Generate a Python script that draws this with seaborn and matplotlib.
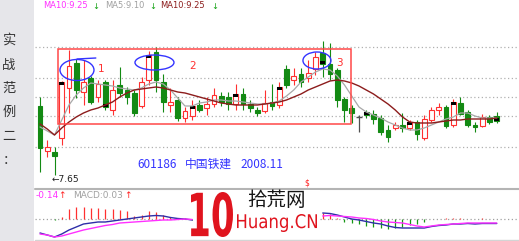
import numpy as np
import pandas as pd
import matplotlib
matplotlib.use("Agg")
import matplotlib.pyplot as plt
import seaborn as sns
from matplotlib.patches import Rectangle, Ellipse, PathPatch
from matplotlib.lines import Line2D
from matplotlib.textpath import TextPath
from matplotlib.font_manager import FontProperties
from matplotlib.transforms import Affine2D

# ---------------- data ----------------
opens = [8.34, 7.89, 7.88, 8.02, 8.52, 8.77, 8.48, 8.62, 8.43, 8.58,
         8.30, 8.55, 8.50, 8.47, 8.34, 8.60, 8.88, 8.58, 8.35, 8.40,
         8.22, 8.24, 8.35, 8.32, 8.36, 8.44, 8.43, 8.36, 8.46, 8.36,
         8.30, 8.29, 8.38, 8.35, 8.71, 8.60, 8.66, 8.62, 8.71, 8.87,
         8.76, 8.70, 8.41, 8.32, 8.23, 8.28, 8.26, 8.22, 8.10, 8.12,
         8.15, 8.12, 8.18, 8.02, 8.20, 8.30, 8.33, 8.15, 8.37, 8.28,
         8.15, 8.14, 8.23, 8.24]
closes = [7.92, 7.93, 7.84, 8.58, 8.74, 8.50, 8.58, 8.38, 8.56, 8.33,
          8.50, 8.47, 8.43, 8.27, 8.58, 8.85, 8.60, 8.38, 8.38, 8.22,
          8.29, 8.34, 8.30, 8.36, 8.45, 8.38, 8.36, 8.46, 8.36, 8.32,
          8.27, 8.37, 8.34, 8.53, 8.55, 8.64, 8.58, 8.67, 8.83, 8.76,
          8.66, 8.40, 8.30, 8.27, 8.23, 8.25, 8.21, 8.08, 8.03, 8.15,
          8.12, 8.18, 8.06, 8.21, 8.30, 8.33, 8.14, 8.38, 8.26, 8.15,
          8.13, 8.23, 8.18, 8.19]
highs = [8.43, 8.00, 7.93, 8.59, 8.90, 8.81, 8.80, 8.64, 8.60, 8.60,
         8.60, 8.73, 8.53, 8.50, 8.63, 8.89, 8.93, 8.66, 8.52, 8.43,
         8.33, 8.40, 8.40, 8.43, 8.52, 8.48, 8.48, 8.56, 8.52, 8.40,
         8.33, 8.50, 8.56, 8.58, 8.75, 8.72, 8.72, 8.80, 8.88, 8.99,
         8.97, 8.72, 8.43, 8.35, 8.25, 8.30, 8.30, 8.25, 8.15, 8.18,
         8.27, 8.20, 8.20, 8.25, 8.33, 8.37, 8.35, 8.41, 8.43, 8.30,
         8.18, 8.26, 8.25, 8.28]
lows = [7.68, 7.83, 7.65, 7.95, 8.27, 8.42, 8.35, 8.36, 8.38, 8.30,
        8.25, 8.43, 8.36, 8.24, 8.32, 8.55, 8.48, 8.28, 8.28, 8.19,
        8.18, 8.20, 8.28, 8.25, 8.33, 8.34, 8.30, 8.30, 8.30, 8.28,
        8.24, 8.27, 8.30, 8.32, 8.52, 8.55, 8.53, 8.58, 8.65, 8.63,
        8.60, 8.33, 8.18, 8.17, 8.08, 8.22, 8.16, 8.05, 7.98, 8.10,
        8.08, 8.10, 8.00, 8.00, 8.18, 8.25, 8.12, 8.13, 8.25, 8.13,
        8.08, 8.13, 8.16, 8.17]
ma5 = [8.13, 8.09, 8.05, 8.20, 8.35, 8.45, 8.52, 8.57, 8.56, 8.55,
       8.54, 8.52, 8.51, 8.50, 8.52, 8.56, 8.58, 8.56, 8.50, 8.42,
       8.34, 8.34, 8.37, 8.38, 8.40, 8.40, 8.39, 8.39, 8.38, 8.37,
       8.36, 8.36, 8.37, 8.39, 8.44, 8.50, 8.58, 8.63, 8.68, 8.71,
       8.70, 8.64, 8.55, 8.44, 8.33, 8.28, 8.25, 8.22, 8.18, 8.15,
       8.12, 8.10, 8.10, 8.12, 8.15, 8.18, 8.21, 8.23, 8.27, 8.27,
       8.24, 8.22, 8.22, 8.22]
ma10 = [8.16, 8.11, 8.05, 8.12, 8.18, 8.23, 8.27, 8.30, 8.32, 8.35,
        8.38, 8.43, 8.47, 8.50, 8.51, 8.52, 8.53, 8.52, 8.50, 8.48,
        8.47, 8.45, 8.43, 8.41, 8.39, 8.37, 8.36, 8.35, 8.35, 8.35,
        8.35, 8.36, 8.37, 8.38, 8.40, 8.43, 8.46, 8.50, 8.53, 8.56,
        8.59, 8.60, 8.59, 8.57, 8.54, 8.50, 8.46, 8.41, 8.36, 8.30,
        8.23, 8.18, 8.17, 8.17, 8.17, 8.18, 8.19, 8.20, 8.20, 8.21,
        8.21, 8.21, 8.21, 8.22]
mark_idx = [3, 9, 15, 21, 27, 33, 39, 45, 51, 57, 63]   # candles with black close tick
hidden = [np.nan] * 17   # MACD values covered by the logo
macd_hist = ([0, 0, -0.005, 0.02, 0.10, 0.12, 0.12, 0.11, 0.11, 0.10,
              0.10, 0.09, 0.08, 0.03, 0.04, 0.08, 0.07, 0.04, 0.02, 0.01,
              0.01, -0.005] + hidden +
             [0.06, 0.05, 0.01, -0.03, -0.04, -0.05, -0.07, -0.08, -0.09, -0.10,
              -0.09, -0.08, -0.06, -0.05, -0.03, 0, 0, 0.01, 0.01, 0.01,
              0.005, 0, 0.01, 0, 0])
macd_dif = ([-0.14, -0.16, -0.18, -0.15, -0.11, -0.08, -0.05, -0.04, -0.03, -0.03,
             -0.02, -0.01, 0.00, 0.01, 0.02, 0.03, 0.035, 0.03, 0.015, 0.005,
             0.0, -0.01] + hidden +
            [0.06, 0.055, 0.04, 0.02, 0.0, -0.01, -0.025, -0.04, -0.05, -0.07,
             -0.085, -0.09, -0.09, -0.09, -0.09, -0.075, -0.065, -0.06, -0.05, -0.05,
             -0.045, -0.05, -0.045, -0.045, -0.045])
macd_dea = ([-0.15, -0.16, -0.18, -0.17, -0.15, -0.13, -0.11, -0.095, -0.08, -0.065,
             -0.055, -0.04, -0.035, -0.03, -0.025, -0.02, -0.015, -0.01, -0.01, -0.005,
             0.0, -0.005] + hidden +
            [0.03, 0.035, 0.03, 0.025, 0.02, 0.01, 0.005, -0.005, -0.02, -0.03,
             -0.035, -0.04, -0.055, -0.07, -0.08, -0.07, -0.06, -0.055, -0.05, -0.045,
             -0.04, -0.04, -0.04, -0.04, -0.04])
grid_levels = [8.93, 8.62, 8.43, 8.24, 7.93]
low_label = "7.65"
legend_items = [("MA10:9.25", "#ff30ff"), ("MA5:9.10", "#a0a0a0"), ("MA10:9.25", "#8c1c1c")]
macd_labels = [("-0.14", "#ff30ff"), ("MACD:0.03", "#a0a0a0")]
side_text = "实战范例二："
stock_code, stock_name, stock_date = "601186", "中国铁建", "2008.11"

# ---------------- style ----------------
RED = "#ff3030"
GREEN = "#138a13"
DOJI = "#505050"
GRAYMA = "#a8a8a8"
BROWN = "#8c1c1c"
BLUE = "#3434ff"

sns.set_theme(style="white")
plt.rcParams['font.family'] = ['Noto Sans CJK SC', 'DejaVu Sans']

W, H = 519, 241
fig = plt.figure(figsize=(W / 100, H / 100), dpi=100)
fig.patch.set_facecolor("white")


def fx(px):
    return px / W


def fy(py):
    return 1 - py / H


# left grey panel
fig.add_artist(Rectangle((0, 0), fx(34), 1, transform=fig.transFigure,
                         facecolor="#e6e6ea", edgecolor="none", zorder=0))
for ch, py in zip(side_text, [40, 65, 88, 112, 136, 161]):
    fig.text(fx(9), fy(py), ch, ha="center", va="center", fontsize=9.5,
             color="#333333", family=['Noto Sans CJK SC', 'DejaVu Sans'])

# ---------------- main price panel ----------------
ax = fig.add_axes([fx(35), fy(188), fx(519) - fx(35), 188 / H])
ax.set_facecolor("none")
ax.axis("off")
ax.set_xlim(-0.69, 66.07)
ax.set_ylim(7.52, 9.40)

o = np.array(opens); c = np.array(closes); h = np.array(highs); l = np.array(lows)
x = np.arange(len(o))
up = c > o
dn = c < o
fl = c == o

for g in grid_levels:
    ax.axhline(g, color="#b0b0b0", lw=0.9, ls=(0, (1, 2)), zorder=1)

ax.vlines(x[up], l[up], h[up], color=RED, lw=0.8, zorder=2)
ax.vlines(x[dn], l[dn], h[dn], color=GREEN, lw=0.8, zorder=2)
ax.vlines(x[fl], l[fl], h[fl], color=DOJI, lw=0.9, zorder=2)
bw = 0.66
ax.bar(x[up], (c - o)[up], bottom=o[up], width=bw, facecolor="white",
       edgecolor=RED, linewidth=0.8, zorder=3)
ax.bar(x[dn], (o - c)[dn], bottom=c[dn], width=bw, facecolor=GREEN,
       edgecolor=GREEN, linewidth=0.8, zorder=3)
ax.hlines(c[fl], x[fl] - 0.4, x[fl] + 0.4, color=DOJI, lw=1.0, zorder=3)

mi = np.array(mark_idx)
mk = 0.03
mbottom = np.where(c[mi] > o[mi], c[mi] - mk, c[mi])
ax.bar(x[mi], mk, bottom=mbottom, width=bw, color="black", linewidth=0, zorder=3.5)

df = pd.DataFrame({"x": x, "ma5": ma5, "ma10": ma10})
sns.lineplot(data=df, x="x", y="ma5", ax=ax, color=GRAYMA, lw=0.9, zorder=4, legend=False)
sns.lineplot(data=df, x="x", y="ma10", ax=ax, color=BROWN, lw=1.0, zorder=4, legend=False)
ax.axis("off")

# annotation frame, ellipses and numbers
ax.add_patch(Rectangle((2.48, 8.16), 42.9 - 2.48, 8.91 - 8.16, fill=False,
                       edgecolor="#ff4848", lw=1.1, zorder=5))
for (cx, cy, ew, eh) in [(5.1, 8.70, 4.69, 0.21), (15.79, 8.775, 5.38, 0.15),
                         (38.2, 8.795, 3.86, 0.17)]:
    ax.add_patch(Ellipse((cx, cy), ew, eh, fill=False, edgecolor=BLUE, lw=1.0, zorder=6))
ax.plot([5.1, 7.7], [8.81, 8.82], color=BLUE, lw=1.0, zorder=6)
for txt, tx, ty in [("1", 8.41, 8.71), ("2", 21.1, 8.74), ("3", 41.24, 8.77)]:
    ax.text(tx, ty, txt, color="#ff3030", fontsize=7.5, ha="center", va="center",
            family=["DejaVu Sans"], zorder=7)

# top legend
pos = [43, 105, 160]
arr = [92, 149, 211]
for (t, col), px, ax_ in zip(legend_items, pos, arr):
    fig.text(fx(px), fy(6), t, color=col, fontsize=6, ha="left", va="center",
             family=["DejaVu Sans"])
    fig.text(fx(ax_), fy(6.5), "↓", color="#10a010", fontsize=6, ha="left",
             va="center", family=["DejaVu Sans"])

# low label
fig.text(fx(52), fy(179), "←" + low_label, color="#202020", fontsize=6.5,
         ha="left", va="center", family=["DejaVu Sans"])

# stock caption
for t, px in [(stock_code, 137), (stock_name, 185), (stock_date, 240)]:
    fig.text(fx(px), fy(164), t, color=BLUE, fontsize=8.5, ha="left", va="center",
             family=['Noto Sans CJK SC', 'DejaVu Sans'])

fig.text(fx(307), fy(183), "$", color="#ff2020", fontsize=5.5, ha="center",
         va="center", family=["DejaVu Sans"])

# separators
fig.add_artist(Line2D([fx(35), 1], [fy(188.5), fy(188.5)], color="#b4b4b4", lw=1.5,
                      transform=fig.transFigure))
fig.add_artist(Line2D([fx(35), 1], [fy(240), fy(240)], color="#d4d4d4", lw=1.0,
                      transform=fig.transFigure))

# ---------------- MACD panel ----------------
axm = fig.add_axes([fx(35), fy(240), fx(519) - fx(35), (240 - 189) / H])
axm.set_facecolor("none")
axm.axis("off")
axm.set_xlim(-0.69, 66.07)
axm.set_ylim(-0.21, 0.30)
hist = np.array(macd_hist, dtype=float)
axm.axhline(0, color="#a0a0a0", lw=0.9, ls=(0, (1, 2)), zorder=1)
pos_m = hist > 0
neg_m = hist < 0
axm.vlines(x[pos_m], 0, hist[pos_m], color="#ff3030", lw=0.9, zorder=2)
axm.vlines(x[neg_m], 0, hist[neg_m], color="#149614", lw=0.9, zorder=2)
axm.plot(x, macd_dif, color="#2e2ea8", lw=1.0, zorder=3)
axm.plot(x, macd_dea, color="#ff30ff", lw=1.0, zorder=3)

fig.text(fx(36), fy(196), macd_labels[0][0], color=macd_labels[0][1], fontsize=6.5,
         ha="left", va="center", family=["DejaVu Sans"])
fig.text(fx(58.5), fy(196), "↑", color="#ff2020", fontsize=6.5, ha="left", va="center",
         family=["DejaVu Sans"])
fig.text(fx(73), fy(196), macd_labels[1][0], color=macd_labels[1][1], fontsize=6.5,
         ha="left", va="center", family=["DejaVu Sans"])
fig.text(fx(124.5), fy(196), "↑", color="#ff2020", fontsize=6.5, ha="left", va="center",
         family=["DejaVu Sans"])

# ---------------- watermark logo ----------------
fig.add_artist(Rectangle((fx(193), fy(239)), fx(320) - fx(193), (239 - 190) / H,
                         transform=fig.transFigure, facecolor="white",
                         edgecolor="none", zorder=15))


def path_text(s, x0, y0, x1, y1, color, prop):
    tp = TextPath((0, 0), s, size=1, prop=prop)
    ext = tp.get_extents()
    sx = (x1 - x0) / ext.width
    sy = (y1 - y0) / ext.height
    tr = (Affine2D().translate(-ext.x0, -ext.y0).scale(sx / W, sy / H)
          .translate(x0 / W, 1 - y1 / H) + fig.transFigure)
    fig.add_artist(PathPatch(tp, transform=tr, facecolor=color, edgecolor="none",
                             zorder=20))


path_text("10", 191, 192, 233, 237, "#e0141e",
          FontProperties(family="DejaVu Sans", weight="bold"))
path_text("Huang.CN", 237, 214, 317, 232, "#e0141e",
          FontProperties(family="DejaVu Sans"))
fig.text(fx(247), fy(201), "拾荒网", color="#151515", fontsize=14, ha="left",
         va="center", family=['Noto Sans CJK SC', 'DejaVu Sans'], zorder=21)

fig.savefig("out.png", dpi=100)
